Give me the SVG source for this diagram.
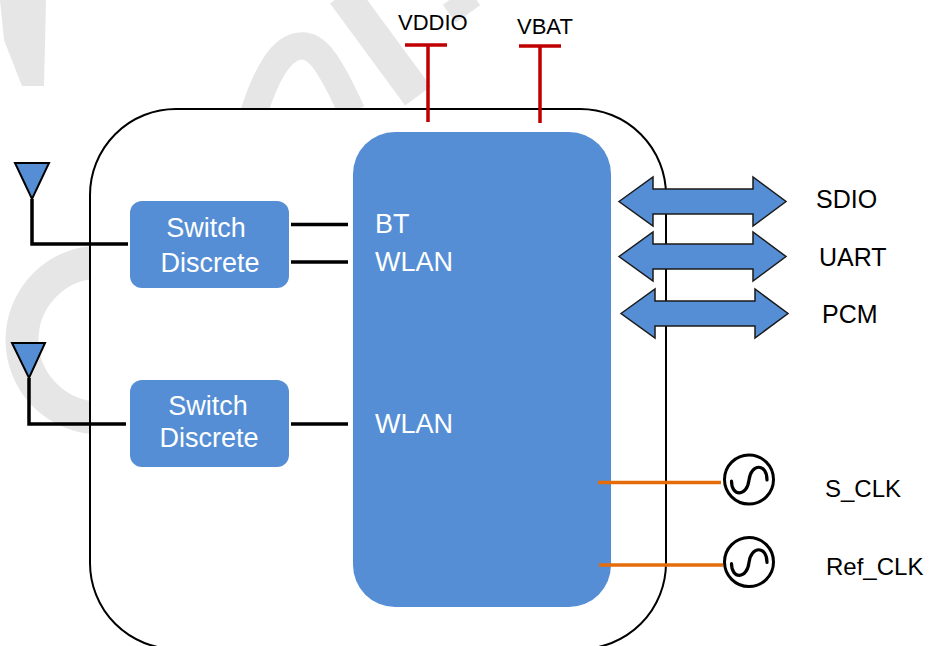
<svg xmlns="http://www.w3.org/2000/svg" width="932" height="646" viewBox="0 0 932 646">
<style>
.wm{fill:none;stroke:#e6e6e6;stroke-linecap:butt}
.blk{fill:#558ED5}
.wt{font-family:"Liberation Sans",Arial,sans-serif;fill:#ffffff;font-size:27px}
.lbl{font-family:"Liberation Sans",Arial,sans-serif;fill:#000000}
.ln{stroke:#000;stroke-width:3.5;fill:none}
.red{stroke:#C00000;stroke-width:3.5;fill:none}
.org{stroke:#E46C0A;stroke-width:3.5;fill:none}
.arr{fill:#558ED5;stroke:#1a1a1a;stroke-width:1.5;stroke-linejoin:miter}
.osc{fill:#fff;stroke:#000;stroke-width:3}
.sin{fill:none;stroke:#000;stroke-width:3.2;stroke-linecap:round}
.ant{fill:#558ED5;stroke:#000;stroke-width:2;stroke-linejoin:miter}
</style>
<rect width="932" height="646" fill="#ffffff"/>
<g id="watermark">
<polygon points="0,0 46,0 44,86 22,86 4,40" fill="#e6e6e6"/>
<path class="wm" d="M254,112 C268,70 282,48 300,46 C316,44 328,60 352,112" stroke-width="27"/>
<path class="wm" d="M343,-6 L418,96" stroke-width="32"/>
<path class="wm" d="M455,-4 L468,14" stroke-width="30"/>
<circle cx="100" cy="340" r="78" class="wm" stroke-width="33"/>
</g>
<g id="module">
<rect x="90" y="109" width="576" height="540" rx="86" ry="86" fill="#ffffff" stroke="#000" stroke-width="2"/>
</g>
<g id="chip">
<rect x="353" y="132" width="258" height="475" rx="42" ry="42" class="blk"/>
<text class="wt" x="375" y="233">BT</text>
<text class="wt" x="375" y="271">WLAN</text>
<text class="wt" x="375" y="433">WLAN</text>
</g>
<g id="switch1">
<rect x="130" y="201" width="159" height="87" rx="12" ry="12" class="blk"/>
<text class="wt" x="206" y="237" text-anchor="middle">Switch</text>
<text class="wt" x="210" y="272" text-anchor="middle">Discrete</text>
</g>
<g id="switch2">
<rect x="130" y="380" width="159" height="87" rx="12" ry="12" class="blk"/>
<text class="wt" x="208" y="415" text-anchor="middle">Switch</text>
<text class="wt" x="209" y="447" text-anchor="middle">Discrete</text>
</g>
<g id="connectors">
<path class="ln" d="M291,224.5 H348 M291,262 H348 M291,424 H348"/>
<path class="ln" d="M32,199 V244 H128"/>
<path class="ln" d="M29,378 V424 H126"/>
<path class="red" d="M405,45 H447 M428,45 V122"/>
<path class="red" d="M519,46 H561 M540,46 V123"/>
<path class="org" d="M598,482.5 H721"/>
<path class="org" d="M599,565 H723"/>
</g>
<g id="antenna1">
<polygon class="ant" points="15,163 49,163 32,199"/>
</g>
<g id="antenna2">
<polygon class="ant" points="12,343 45,343 29,378"/>
</g>
<g id="vddio">
<text class="lbl" x="398" y="30" font-size="22">VDDIO</text>
</g>
<g id="vbat">
<text class="lbl" x="517" y="34" font-size="22">VBAT</text>
</g>
<g id="sdio">
<path class="arr" transform="translate(619,201.5)" d="M0,0 L34,-24.5 L34,-12.5 L134,-12.5 L134,-24.5 L167,0 L134,24.5 L134,12.5 L34,12.5 L34,24.5 Z"/>
<text class="lbl" x="816" y="208" font-size="25">SDIO</text>
</g>
<g id="uart">
<path class="arr" transform="translate(619,256.5)" d="M0,0 L34,-24.5 L34,-12.5 L134,-12.5 L134,-24.5 L167,0 L134,24.5 L134,12.5 L34,12.5 L34,24.5 Z"/>
<text class="lbl" x="819" y="266" font-size="25">UART</text>
</g>
<g id="pcm">
<path class="arr" transform="translate(621,313.5)" d="M0,0 L34,-24.5 L34,-12.5 L134,-12.5 L134,-24.5 L167,0 L134,24.5 L134,12.5 L34,12.5 L34,24.5 Z"/>
<text class="lbl" x="822" y="323" font-size="25">PCM</text>
</g>
<g id="s_clk">
<circle class="osc" cx="749" cy="479.5" r="24.5"/>
<path class="sin" d="M731.5,481 C731.5,497 747,497 749,480 C751,463 767,463 767,480"/>
<text class="lbl" x="825" y="497" font-size="24">S_CLK</text>
</g>
<g id="ref_clk">
<circle class="osc" cx="749" cy="562" r="24.5"/>
<path class="sin" d="M731.5,563.5 C731.5,579.5 747,579.5 749,562.5 C751,545.5 767,545.5 767,562.5"/>
<text class="lbl" x="826" y="575" font-size="24">Ref_CLK</text>
</g>
</svg>
